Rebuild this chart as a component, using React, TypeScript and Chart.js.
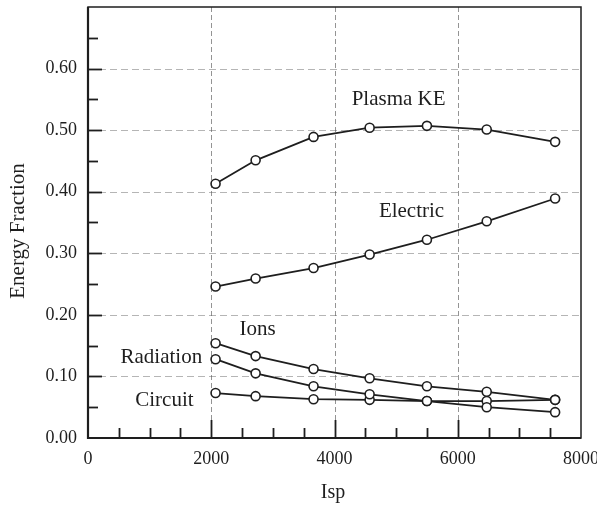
import React, { useEffect, useRef } from "react";
import { Chart, registerables } from "chart.js";

Chart.register(...registerables);

// ---- data ----
const ispValues = [2070, 2720, 3660, 4570, 5500, 6470, 7580];
const plasmaKE = [0.413, 0.451, 0.489, 0.504, 0.507, 0.501, 0.481];
const electric = [0.246, 0.259, 0.276, 0.298, 0.322, 0.352, 0.389];
const ions = [0.154, 0.133, 0.112, 0.097, 0.084, 0.075, 0.062];
const radiation = [0.128, 0.105, 0.084, 0.071, 0.06, 0.05, 0.042];
const circuit = [0.073, 0.068, 0.063, 0.062, 0.06, 0.06, 0.062];

const xTickLabels = ["0", "2000", "4000", "6000", "8000"];
const yTickLabels = ["0.00", "0.10", "0.20", "0.30", "0.40", "0.50", "0.60", ""];

const seriesLabels = ["Plasma KE", "Electric", "Ions", "Radiation", "Circuit"];
const labelX = [5040, 5250, 2750, 1190, 1240];
const labelY = [0.549, 0.368, 0.177, 0.131, 0.061];

const xGridValues = [2000, 4000, 6000];
const yGridValues = [0.1, 0.2, 0.3, 0.4, 0.5, 0.6];
const xMinorStep = 500;
const yMinorStep = 0.05;

const xTitle = "Isp";
const yTitle = "Energy Fraction";

const INK = "#1e1e1e";
const SERIF = "'Liberation Serif', 'DejaVu Serif', serif";

const decorPlugin = {
  id: "decor",
  beforeDatasetsDraw(chart: any) {
    const { ctx, chartArea: a, scales } = chart;
    const xs = scales.x;
    const ys = scales.y;
    ctx.save();
    // grid lines
    ctx.strokeStyle = "rgba(60,60,60,0.55)";
    ctx.lineWidth = 1;
    ctx.setLineDash([5, 3]);
    for (const v of xGridValues) {
      const px = Math.round(xs.getPixelForValue(v)) + 0.5;
      ctx.beginPath();
      ctx.moveTo(px, a.top);
      ctx.lineTo(px, a.bottom);
      ctx.stroke();
    }
    ctx.strokeStyle = "rgba(90,90,90,0.45)";
    ctx.setLineDash([7, 4]);
    for (const v of yGridValues) {
      const py = Math.round(ys.getPixelForValue(v)) + 0.5;
      ctx.beginPath();
      ctx.moveTo(a.left, py);
      ctx.lineTo(a.right, py);
      ctx.stroke();
    }
    ctx.setLineDash([]);
    // frame
    ctx.strokeStyle = INK;
    ctx.lineWidth = 1.5;
    ctx.strokeRect(a.left, a.top, a.right - a.left, a.bottom - a.top);
    ctx.lineWidth = 2.2;
    ctx.beginPath();
    ctx.moveTo(a.left, a.top);
    ctx.lineTo(a.left, a.bottom);
    ctx.lineTo(a.right, a.bottom);
    ctx.stroke();
    // ticks
    ctx.lineWidth = 1.8;
    for (let v = xMinorStep; v < xs.max; v += xMinorStep) {
      const px = Math.round(xs.getPixelForValue(v)) + 0.5;
      const len = v % 2000 === 0 ? 18 : 10;
      ctx.beginPath();
      ctx.moveTo(px, a.bottom);
      ctx.lineTo(px, a.bottom - len);
      ctx.stroke();
    }
    for (let i = 1; i * yMinorStep < ys.max - 1e-9; i++) {
      const v = i * yMinorStep;
      const py = Math.round(ys.getPixelForValue(v)) + 0.5;
      const len = i % 2 === 0 ? 14 : 10;
      ctx.beginPath();
      ctx.moveTo(a.left, py);
      ctx.lineTo(a.left + len, py);
      ctx.stroke();
    }
    ctx.restore();
  },
  afterDatasetsDraw(chart: any) {
    const { ctx, chartArea: a, scales } = chart;
    const xs = scales.x;
    const ys = scales.y;
    ctx.save();
    ctx.fillStyle = INK;
    ctx.textAlign = "center";
    ctx.textBaseline = "middle";
    ctx.font = `21px ${SERIF}`;
    seriesLabels.forEach((t, i) => {
      ctx.fillText(t, xs.getPixelForValue(labelX[i]), ys.getPixelForValue(labelY[i]));
    });
    // axis titles
    ctx.font = `20px ${SERIF}`;
    ctx.fillText(xTitle, 333, a.bottom + 55);
    ctx.save();
    ctx.translate(18, 231);
    ctx.rotate(-Math.PI / 2);
    ctx.font = `21px ${SERIF}`;
    ctx.fillText(yTitle, 0, 0);
    ctx.restore();
    ctx.restore();
  },
};

function makeDataset(label: string, values: number[]) {
  return {
    label,
    data: ispValues.map((x, i) => ({ x, y: values[i] })),
    borderColor: INK,
    borderWidth: 1.8,
    pointRadius: 4.5,
    pointBorderWidth: 1.6,
    pointBackgroundColor: "#ffffff",
    pointBorderColor: INK,
    tension: 0,
    fill: false,
  };
}

export default function App() {
  const ref = useRef<HTMLCanvasElement | null>(null);
  useEffect(() => {
    if (!ref.current) return;
    const chart = new Chart(ref.current, {
      type: "line",
      data: {
        datasets: [
          makeDataset("Plasma KE", plasmaKE),
          makeDataset("Electric", electric),
          makeDataset("Ions", ions),
          makeDataset("Radiation", radiation),
          makeDataset("Circuit", circuit),
        ],
      },
      options: {
        responsive: false,
        animation: false,
        layout: { padding: { top: 7, right: 16, left: 0, bottom: 0 } },
        plugins: { legend: { display: false }, tooltip: { enabled: false } },
        scales: {
          x: {
            type: "linear",
            min: 0,
            max: 8000,
            grid: { display: false, drawTicks: false },
            border: { display: false },
            afterFit: (s: any) => {
              s.height = 76;
              s.paddingLeft = 0;
              s.paddingRight = 0;
            },
            ticks: {
              stepSize: 2000,
              padding: 10,
              color: INK,
              font: { family: SERIF, size: 18 },
              maxRotation: 0,
              callback: (_v: any, i: number) => xTickLabels[i],
            },
          },
          y: {
            type: "linear",
            min: 0,
            max: 0.7,
            grid: { display: false, drawTicks: false },
            border: { display: false },
            afterFit: (s: any) => {
              s.width = 88;
              s.paddingTop = 0;
              s.paddingBottom = 0;
            },
            ticks: {
              stepSize: 0.1,
              padding: 11,
              color: INK,
              font: { family: SERIF, size: 18 },
              callback: (_v: any, i: number) => yTickLabels[i],
            },
          },
        },
      },
      plugins: [decorPlugin],
    } as any);
    return () => chart.destroy();
  }, []);
  return (
    <div style={{ position: "absolute", left: 0, top: 0, width: 597, height: 514, background: "#fff" }}>
      <canvas ref={ref} width={597} height={514} />
    </div>
  );
}
